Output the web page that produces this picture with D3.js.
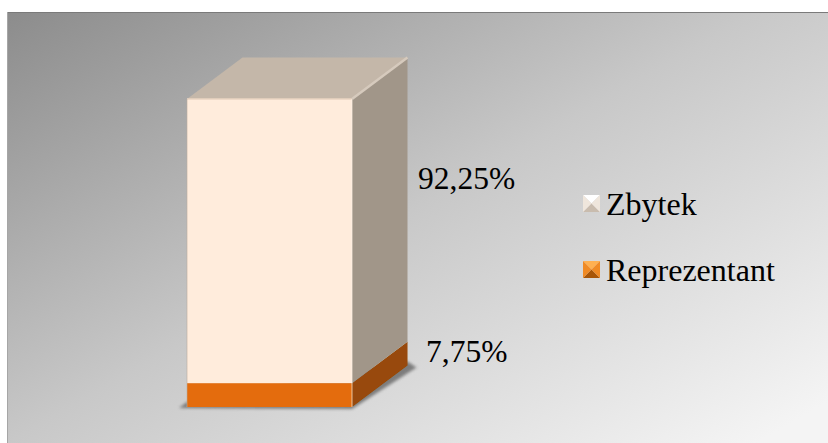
<!DOCTYPE html>
<html>
<head>
<meta charset="utf-8">
<script src="https://cdn.jsdelivr.net/npm/d3@7"></script>
<style>
html,body{margin:0;padding:0;background:#fff}
svg{display:block}
text{font-family:"Liberation Serif","Times New Roman",serif;fill:#000}
</style>
</head>
<body>
<svg id="chart" width="828" height="443"></svg>
<script>
const categories = ["Reprezentant", "Zbytek"];
const shares = [7.75, 92.25];
const shareLabels = ["7,75%", "92,25%"];
const legendOrder = ["Zbytek", "Reprezentant"];
const frontColors = ["#e46c0a", "#ffecdc"];
const sideColors = ["#984807", "#a19689"];
const topColors = ["#c0a890", "#c4b7a9"];
const legendTop = ["#ffb050", "#ffffff"];
const legendBottom = ["#a85608", "#c9bcae"];
const legendLeft = ["#f08a24", "#efe6dc"];

const svg = d3.select("#chart");
const W = 828, H = 443;
const defs = svg.append("defs");

const bg = defs.append("linearGradient").attr("id", "panel")
  .attr("gradientUnits", "userSpaceOnUse")
  .attr("x1", 7).attr("y1", 12).attr("x2", 380).attr("y2", 660);
[[0, "#8c8c8c"], [0.5, "#c8c8c8"], [1, "#f4f4f4"]].forEach(([o, c]) =>
  bg.append("stop").attr("offset", o).attr("stop-color", c));

const soft = defs.append("filter").attr("id", "soft")
  .attr("x", "-10%").attr("y", "-10%").attr("width", "120%").attr("height", "120%");
soft.append("feGaussianBlur").attr("stdDeviation", 1.6);

const smooth = defs.append("filter").attr("id", "smooth")
  .attr("x", "-5%").attr("y", "-5%").attr("width", "110%").attr("height", "110%");
smooth.append("feGaussianBlur").attr("stdDeviation", 0.5);

// chart area: gradient fill with a dark top rule and a lighter left rule
svg.append("rect").attr("x", 8).attr("y", 13).attr("width", W).attr("height", H)
  .attr("fill", "url(#panel)");
svg.append("line").attr("x1", 8).attr("x2", W).attr("y1", 12.5).attr("y2", 12.5)
  .attr("stroke", "#7a7a7a");
svg.append("line").attr("x1", 7.5).attr("x2", 7.5).attr("y1", 12).attr("y2", H)
  .attr("stroke", "#a6a6a6");

// scales for the stacked column
const y = d3.scaleLinear().domain([0, 100]).range([407, 99]);
const x = d3.scaleBand().domain(["share"]).range([187, 352]);
const depthX = 55.5, depthY = -41.5;

const stacked = d3.stack().keys(categories)([
  Object.fromEntries(categories.map((c, i) => [c, shares[i]]))
]);

const left = x("share"), right = left + x.bandwidth();
const line = d3.line();
const chart = svg.append("g");

// ground shadow below the column
const base = y(0);
chart.append("path")
  .attr("d", line([[left - 8, base + 1], [right, base + 2], [right + depthX + 9, base + depthY + 2], [right + depthX, base + depthY - 4], [left, base - 5]]) + "Z")
  .attr("fill", "#666").attr("opacity", 0.8).attr("filter", "url(#soft)");

const body = chart.append("g").attr("filter", "url(#smooth)");

// side faces and front faces of each stacked segment
stacked.forEach((s, i) => {
  const y0 = y(s[0][0]), y1 = y(s[0][1]);
  body.append("path")
    .attr("d", line([[right, y0], [right + depthX, y0 + depthY], [right + depthX, y1 + depthY], [right, y1]]) + "Z")
    .attr("fill", sideColors[i]);
  body.append("rect")
    .attr("x", left).attr("y", y1)
    .attr("width", x.bandwidth()).attr("height", y0 - y1)
    .attr("fill", frontColors[i]);
});

// top face of the column
const topY = y(100);
body.append("path")
  .attr("d", line([[left, topY], [left + depthX, topY + depthY], [right + depthX, topY + depthY], [right, topY]]) + "Z")
  .attr("fill", topColors[1]);

// bevel highlights along the column's edges
body.append("path")
  .attr("d", line([[left, topY], [right, topY]]))
  .attr("fill", "none").attr("stroke", "#ead5c2").attr("stroke-width", 1.5);
body.append("path")
  .attr("d", line([[right, topY], [right, y(0)]]))
  .attr("fill", "none").attr("stroke", "#fff4e8").attr("stroke-width", 1).attr("opacity", 0.7);
body.append("path")
  .attr("d", line([[right, topY], [right + depthX, topY + depthY]]))
  .attr("fill", "none").attr("stroke", "#d6cabd").attr("stroke-width", 2.5);
body.append("line")
  .attr("x1", left).attr("x2", left).attr("y1", topY).attr("y2", y(0))
  .attr("stroke", "#b9ac9f").attr("stroke-width", 1).attr("opacity", 0.6);

// value labels beside the side face
const labelPos = [[426, 362], [418, 189]];
svg.append("g").selectAll("text").data(shareLabels).join("text")
  .attr("x", (d, i) => labelPos[i][0])
  .attr("y", (d, i) => labelPos[i][1])
  .attr("font-size", 31.5)
  .text(d => d);

// legend with bevelled swatches
const legendY = d3.scalePoint().domain(legendOrder).range([203.5, 269.5]);
const legend = svg.append("g").selectAll("g").data(legendOrder).join("g")
  .attr("transform", d => `translate(583,${legendY(d)})`);
const sw = 17;
legend.each(function (d) {
  const k = categories.indexOf(d);
  const g = d3.select(this);
  const h = sw / 2;
  const tri = (a, b, c, col) => g.append("path")
    .attr("d", line([a, b, c]) + "Z").attr("fill", col);
  tri([0, -h], [sw, -h], [h, 0], legendTop[k]);
  tri([0, h], [sw, h], [h, 0], legendBottom[k]);
  tri([0, -h], [0, h], [h, 0], legendLeft[k]);
  tri([sw, -h], [sw, h], [h, 0], legendLeft[k]);
  g.append("text").attr("x", 23).attr("y", 11.7).attr("font-size", 32).text(d);
});
</script>
</body>
</html>
